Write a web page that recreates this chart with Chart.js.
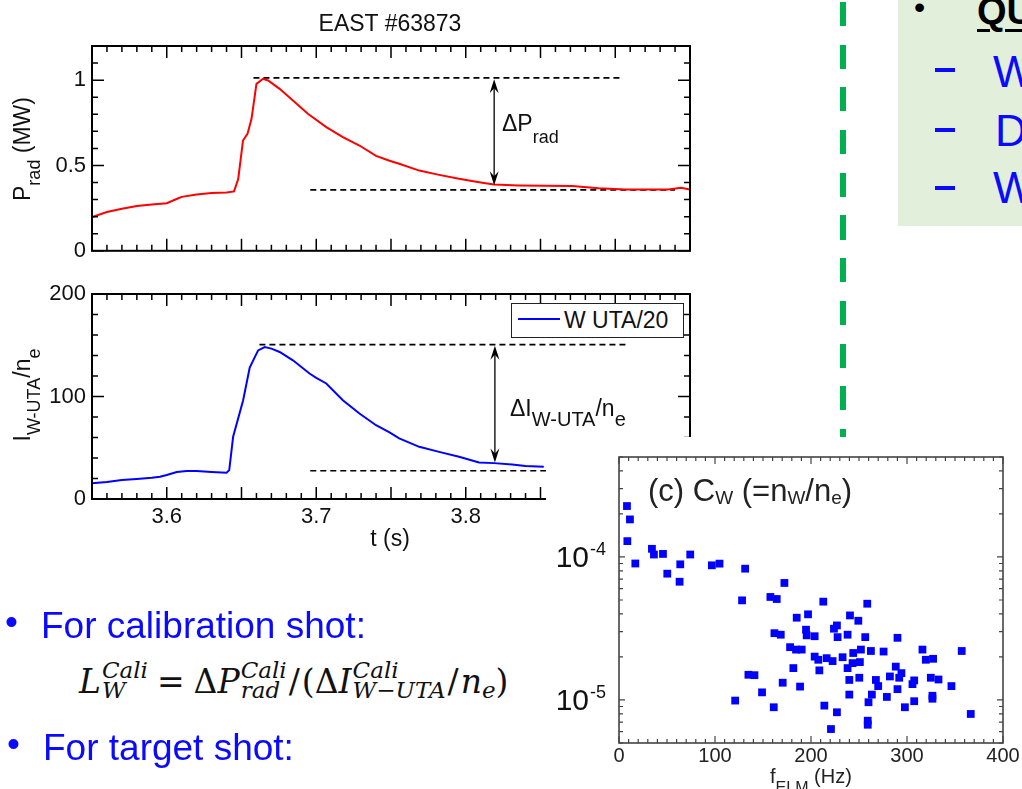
<!DOCTYPE html>
<html>
<head>
<meta charset="utf-8">
<script src="https://cdn.jsdelivr.net/npm/chart.js@4.4.1/dist/chart.umd.min.js"></script>
<style>
  body { margin: 0; background: #fff; }
  #page { position: relative; width: 1022px; height: 789px; overflow: hidden; background: #fff;
          font-family: 'Liberation Sans', Arial, sans-serif; }
  .abs { position: absolute; white-space: nowrap; line-height: 1; }
  canvas { position: absolute; }
  .fig { color: #111; font-size: 23px; }
  .sub { font-size: 18px; position: relative; top: 10px; }
  .rot { transform: translate(-50%, -50%) rotate(-90deg); }
  #legend { left: 511px; top: 303px; width: 173px; height: 35px; box-sizing: border-box;
            border: 1.5px solid #222; background: #fff; }
  #panel { position: absolute; left: 546px; top: 437px; width: 476px; height: 352px; background: #fff; z-index: 5; }
  #greenDash { position: absolute; left: 840px; top: 2px; width: 6px; height: 436px;
               background: repeating-linear-gradient(to bottom, #00b050 0 24px, transparent 24px 42.7px); }
  #note { position: absolute; left: 898px; top: 0; width: 124px; height: 226px; background: #e2efda; }
  .blue { color: #0a0aff; }
  .dash { position: absolute; width: 20px; height: 3.5px; background: #0a0aff; left: 935px; }
  #formula { position: absolute; left: 79px; top: 652px; font-family: 'DejaVu Serif', serif;
             font-size: 33px; line-height: 60px; white-space: nowrap; color: #111; }
  #formula i { font-style: italic; }
  #formula .ss { display: inline-flex; flex-direction: column; align-items: flex-start;
                 font-size: 23px; line-height: 20px; vertical-align: 15px; margin-left: 1px; }
  #formula .sb { font-size: 23px; vertical-align: -5px; }
  #formula .op { margin: 0 9px; }
  #formula .sl { margin: 0 2px; }
  .cwsub { font-size: 19px; position: relative; top: 3px; }
</style>
</head>
<body>
<div id="page">

  <div id="greenDash"></div>
  <div id="note"></div>
  <div class="abs" style="left:914px;top:-9px;font-size:32px;color:#000">•</div>
  <div class="abs" style="left:977px;top:-8px;font-size:38px;font-weight:bold;color:#000;text-decoration:underline;text-decoration-thickness:2.5px;text-underline-offset:5px">QU</div>
  <div class="dash" style="top:68px"></div>
  <div class="dash" style="top:128px"></div>
  <div class="dash" style="top:186px"></div>
  <div class="abs blue" style="left:993px;top:50px;font-size:44px">W</div>
  <div class="abs blue" style="left:995px;top:109px;font-size:44px">D</div>
  <div class="abs blue" style="left:993px;top:166px;font-size:44px">W</div>

  <canvas id="radChart" width="720" height="270" style="left:0;top:0"></canvas>
  <canvas id="utaChart" width="720" height="300" style="left:0;top:270px"></canvas>

  <div class="abs fig" style="left:390px;top:12px;transform:translateX(-50%)">EAST #63873</div>
  <div class="abs fig rot" style="left:22px;top:149px">P<span class="sub">rad</span> (MW)</div>
  <div class="abs fig rot" style="left:22px;top:395px">I<span class="sub">W-UTA</span>/n<span class="sub">e</span></div>
  <div class="abs fig" style="left:390px;top:527px;transform:translateX(-50%)">t (s)</div>

  <div class="abs fig" style="left:502px;top:112px">ΔP<span class="sub" style="top:12px">rad</span></div>
  <div class="abs fig" style="left:510px;top:397px">ΔI<span class="sub" style="font-size:20px">W-UTA</span>/n<span class="sub" style="font-size:20px">e</span></div>

  <div id="legend" class="abs"></div>
  <div class="abs" style="left:518px;top:318px;width:42px;height:2px;background:#0000ff"></div>
  <div class="abs fig" style="left:564px;top:309px">W UTA/20</div>

  <div class="abs blue" style="left:5px;top:603px;font-size:37px">•</div>
  <div class="abs blue" style="left:41px;top:607px;font-size:37px">For calibration shot:</div>
  <div id="formula"><i>L</i><span class="ss"><i>Cali</i><i>W</i></span><span class="op">=</span>Δ<i>P</i><span class="ss"><i>Cali</i><i>rad</i></span><span class="sl">/</span>(Δ<i>I</i><span class="ss"><i>Cali</i><i>W−UTA</i></span><span class="sl">/</span><i>n</i><i class="sb">e</i>)</div>
  <div class="abs blue" style="left:7px;top:725px;font-size:37px">•</div>
  <div class="abs blue" style="left:43px;top:729px;font-size:37px">For target shot:</div>

  <div id="panel">
    <canvas id="cwChart" width="476" height="352" style="left:0;top:0"></canvas>
    <div class="abs" style="left:102px;top:38px;font-size:31px;color:#222">(c) C<span class="cwsub">W</span> (=n<span class="cwsub">W</span>/n<span class="cwsub">e</span>)</div>
    <div class="abs" style="left:224px;top:329px;font-size:20px;color:#222">f<span style="font-size:16px;position:relative;top:10px">ELM</span> (Hz)</div>
  </div>
</div>

<script>
// Radiated power, EAST #63873
const tRad = [3.55, 3.56, 3.57, 3.58, 3.59, 3.60, 3.607, 3.61, 3.62, 3.63, 3.64, 3.645, 3.6478, 3.651, 3.654,
  3.6567, 3.66, 3.6644, 3.6678, 3.6755, 3.6844, 3.6944, 3.7067, 3.7178, 3.7289, 3.74, 3.749, 3.7555, 3.7689,
  3.7822, 3.7955, 3.8089, 3.8189, 3.8355, 3.8533, 3.8711, 3.8889, 3.9067, 3.92, 3.9355, 3.944, 3.95];
const pRad = [0.197, 0.227, 0.246, 0.262, 0.271, 0.279, 0.305, 0.316, 0.330, 0.338, 0.342, 0.348, 0.42, 0.646, 0.685,
  0.773, 0.978, 1.008, 0.998, 0.949, 0.881, 0.803, 0.725, 0.666, 0.617, 0.556, 0.528, 0.51, 0.47,
  0.445, 0.422, 0.402, 0.388, 0.383, 0.381, 0.379, 0.367, 0.359, 0.359, 0.359, 0.369, 0.359];
const pPeakSpan = [3.658, 3.905];
const pPeak = 1.013;
const pBaseSpan = [3.696, 3.94];
const pBase = 0.357;
const pArrow = [3.819, 1.005, 0.384];   // t, upper, lower
const pTicks = [0, 0.5, 1];

// W UTA line intensity over n_e
const tUta = [3.55, 3.56, 3.57, 3.58, 3.59, 3.5955, 3.60, 3.6067, 3.6133, 3.62, 3.63, 3.64, 3.6418, 3.6444, 3.6511,
  3.6555, 3.6611, 3.6655, 3.67, 3.6755, 3.6844, 3.6955, 3.70, 3.7067, 3.7178, 3.7289, 3.74, 3.749, 3.7555,
  3.7689, 3.7822, 3.7955, 3.8089, 3.8189, 3.831, 3.84, 3.8522];
const iUta = [15.3, 16.6, 18.5, 19.5, 20.7, 21.7, 23.4, 26.3, 27.3, 27.3, 26.3, 25.6, 28.2, 60.7, 96.4,
  128.2, 145, 148.3, 146.7, 143.4, 135.3, 122.4, 118.1, 112.7, 96.4, 83.4, 72, 65, 59.1,
  50.9, 46, 41.2, 35.7, 35, 33.7, 32.1, 31.5];
const iPeakSpan = [3.662, 3.909];
const iPeak = 150.6;
const iBaseSpan = [3.696, 3.94];
const iBase = 27.6;
const iArrow = [3.8195, 149.5, 35.5];
const iTicks = [0, 100, 200];
const tTicks = [3.6, 3.7, 3.8, 3.9];

// C_W versus ELM frequency
const fElm = [8.3, 11.4, 8.7, 17, 34.3, 36.4, 45.8, 50.3, 63.8, 63.1, 74.2, 96.7, 104.7, 131.4, 128.2, 172.3,
  157.7, 164.3, 212.8, 258.6, 185.1, 196.9, 240.6, 249.3, 161.9, 168.5, 194.8, 195.5, 203.8, 223.9, 227,
  227.7, 238.1, 256.5, 290.1, 178.2, 184.4, 190.3, 203.8, 207.6, 216.3, 222.5, 232.9, 244, 252, 262.4,
  275.6, 316.1, 319.6, 327.2, 357, 181.6, 208.7, 238.1, 243.3, 250.9, 288.3, 294.2, 239.9, 250.3, 267.6,
  282.2, 291.9, 305.7, 307.5, 324.8, 332.8, 346.3, 134.8, 141.1, 170.5, 188.6, 149, 270, 290.1, 239.9,
  263.4, 279, 326.5, 326.5, 307.5, 259.9, 121, 161.2, 213.9, 227, 297.8, 366.4, 259.1, 259.1, 220.8];
const cW = [2.27e-4, 1.83e-4, 1.29e-4, 9.0e-5, 1.14e-4, 1.04e-4, 1.05e-4, 7.64e-5, 8.88e-5, 6.71e-5, 1.04e-4,
  8.74e-5, 8.98e-5, 8.28e-5, 4.97e-5, 6.58e-5, 5.25e-5, 5.08e-5, 4.87e-5, 4.71e-5, 3.76e-5, 3.97e-5, 3.9e-5,
  3.58e-5, 2.93e-5, 2.86e-5, 3.1e-5, 2.83e-5, 2.79e-5, 3.15e-5, 3.32e-5, 2.75e-5, 2.86e-5, 2.75e-5, 2.72e-5,
  2.34e-5, 2.25e-5, 2.25e-5, 2.01e-5, 1.91e-5, 1.96e-5, 1.87e-5, 1.99e-5, 2.13e-5, 2.25e-5, 2.2e-5, 2.18e-5,
  2.25e-5, 1.91e-5, 1.94e-5, 2.2e-5, 1.67e-5, 1.61e-5, 1.67e-5, 1.81e-5, 1.84e-5, 1.71e-5, 1.54e-5, 1.38e-5,
  1.43e-5, 1.38e-5, 1.46e-5, 1.43e-5, 1.29e-5, 1.37e-5, 1.43e-5, 1.39e-5, 1.25e-5, 1.5e-5, 1.49e-5, 1.32e-5,
  1.24e-5, 1.13e-5, 1.25e-5, 1.19e-5, 1.09e-5, 1.09e-5, 1.05e-5, 1.07e-5, 1.02e-5, 9.8e-6, 9.64e-6, 9.9e-6,
  8.89e-6, 9.13e-6, 8.2e-6, 8.89e-6, 7.98e-6, 7.16e-6, 6.71e-6, 6.26e-6];
const fTicks = [0, 100, 200, 300, 400];
const cwDecades = [-5, -4];

Chart.defaults.font.family = "'Liberation Sans', Arial, sans-serif";
Chart.defaults.color = '#111';
Chart.defaults.animation = false;

const steps = (min, max, step) => {
  const out = [];
  for (let k = Math.ceil(min / step - 1e-9); k * step <= max + 1e-9; k++) out.push(+(k * step).toFixed(6));
  return out;
};
const onGrid = (v, m) => Math.abs(v / m - Math.round(v / m)) < 1e-6;

// box around the plot with inward ticks on all four sides
const frameTicks = {
  id: 'frameTicks',
  afterDatasetsDraw(chart, args, o) {
    const { ctx, chartArea: a, scales: { x, y } } = chart;
    ctx.save();
    ctx.strokeStyle = o.color;
    ctx.lineWidth = o.tickWidth;
    ctx.beginPath();
    steps(x.min, x.max, o.xMinor).forEach(v => {
      const p = x.getPixelForValue(v);
      const len = onGrid(v, o.xMajor) ? o.major : o.minor;
      ctx.moveTo(p, a.bottom); ctx.lineTo(p, a.bottom - len);
      ctx.moveTo(p, a.top); ctx.lineTo(p, a.top + len);
    });
    let yv;
    if (o.logY) {
      yv = [];
      for (let e = Math.floor(Math.log10(y.min)); e <= Math.ceil(Math.log10(y.max)); e++) {
        for (let k = 1; k <= 9; k++) {
          const v = k * Math.pow(10, e);
          if (v >= y.min * 0.999 && v <= y.max * 1.001) yv.push({ v, major: k === 1 });
        }
      }
    } else {
      yv = steps(y.min, y.max, o.yMinor).map(v => ({ v, major: onGrid(v, o.yMajor) }));
    }
    yv.forEach(({ v, major }) => {
      const p = y.getPixelForValue(v);
      const len = major ? o.yMajorLen || o.major : o.yMinorLen || o.minor;
      ctx.moveTo(a.left, p); ctx.lineTo(a.left + len, p);
      ctx.moveTo(a.right, p); ctx.lineTo(a.right - len, p);
    });
    ctx.stroke();
    ctx.lineWidth = o.frameWidth;
    ctx.strokeRect(a.left, a.top, a.right - a.left, a.bottom - a.top);
    ctx.restore();
  }
};

// double-headed arrow marking the rise above the baseline
const deltaArrow = {
  id: 'deltaArrow',
  afterDatasetsDraw(chart, args, o) {
    if (!o.at) return;
    const { ctx, scales: { x, y } } = chart;
    const px = x.getPixelForValue(o.at[0]);
    const top = y.getPixelForValue(o.at[1]);
    const bot = y.getPixelForValue(o.at[2]);
    ctx.save();
    ctx.strokeStyle = ctx.fillStyle = '#000';
    ctx.lineWidth = 1.3;
    ctx.beginPath(); ctx.moveTo(px, top + 6); ctx.lineTo(px, bot - 6); ctx.stroke();
    [[top, 1], [bot, -1]].forEach(([tip, d]) => {
      ctx.beginPath();
      ctx.moveTo(px, tip);
      ctx.lineTo(px - 4.5, tip + d * 14);
      ctx.lineTo(px, tip + d * 9);
      ctx.lineTo(px + 4.5, tip + d * 14);
      ctx.closePath();
      ctx.fill();
    });
    ctx.restore();
  }
};

// 10^n labels on the log axis
const decadeLabels = {
  id: 'decadeLabels',
  afterDraw(chart) {
    const { ctx, chartArea: a, scales: { y } } = chart;
    ctx.save();
    ctx.fillStyle = '#111';
    ctx.textBaseline = 'alphabetic';
    cwDecades.forEach(e => {
      const p = y.getPixelForValue(Math.pow(10, e));
      ctx.font = "18px 'Liberation Sans', Arial, sans-serif";
      const sup = String(e);
      const supW = ctx.measureText(sup).width;
      ctx.font = "30px 'Liberation Sans', Arial, sans-serif";
      const mainW = ctx.measureText('10').width;
      const x0 = a.left - 14 - supW - mainW;
      ctx.fillText('10', x0, p + 10);
      ctx.font = "18px 'Liberation Sans', Arial, sans-serif";
      ctx.fillText(sup, x0 + mainW + 1, p - 2);
    });
    ctx.restore();
  }
};

const dashed = (span, level) => ({
  data: span.map(t => ({ x: t, y: level })),
  borderColor: '#000', borderWidth: 1.6, borderDash: [6, 4], pointRadius: 0
});

const timeAxis = (showLabels, height, pad) => ({
  type: 'linear', min: 3.55, max: 3.95,
  afterBuildTicks: s => { s.ticks = tTicks.map(v => ({ value: v })); },
  afterFit: s => { s.height = height; },
  ticks: { display: showLabels, font: { size: 22 }, padding: pad, maxRotation: 0, callback: v => v.toFixed(1) },
  grid: { display: false, drawTicks: false },
  border: { display: false }
});

const valueAxis = (max, tickList) => ({
  type: 'linear', min: 0, max: max,
  afterBuildTicks: s => { s.ticks = tickList.map(v => ({ value: v })); },
  afterFit: s => { s.width = 92; },
  ticks: { font: { size: 22 }, padding: 6, callback: v => String(v) },
  grid: { display: false, drawTicks: false },
  border: { display: false }
});

new Chart(document.getElementById('radChart'), {
  type: 'line',
  data: {
    datasets: [
      { data: tRad.map((t, i) => ({ x: t, y: pRad[i] })), borderColor: '#ff0000', borderWidth: 2, pointRadius: 0, tension: 0 },
      dashed(pPeakSpan, pPeak),
      dashed(pBaseSpan, pBase)
    ]
  },
  options: {
    responsive: false,
    layout: { padding: { top: 46, right: 30, left: 0, bottom: 0 } },
    plugins: {
      legend: { display: false }, tooltip: { enabled: false },
      frameTicks: { xMinor: 0.01, xMajor: 0.05, yMinor: 0.1, yMajor: 0.5, major: 12, minor: 6, color: '#000', tickWidth: 1.5, frameWidth: 2 },
      deltaArrow: { at: pArrow }
    },
    scales: { x: timeAxis(false, 18, 0), y: valueAxis(1.2, pTicks) }
  },
  plugins: [frameTicks, deltaArrow]
});

new Chart(document.getElementById('utaChart'), {
  type: 'line',
  data: {
    datasets: [
      { data: tUta.map((t, i) => ({ x: t, y: iUta[i] })), borderColor: '#0000ff', borderWidth: 2, pointRadius: 0, tension: 0 },
      dashed(iPeakSpan, iPeak),
      dashed(iBaseSpan, iBase)
    ]
  },
  options: {
    responsive: false,
    layout: { padding: { top: 24, right: 30, left: 0, bottom: 0 } },
    plugins: {
      legend: { display: false }, tooltip: { enabled: false },
      frameTicks: { xMinor: 0.01, xMajor: 0.05, yMinor: 20, yMajor: 100, major: 12, minor: 6, color: '#000', tickWidth: 1.5, frameWidth: 2 },
      deltaArrow: { at: iArrow }
    },
    scales: { x: timeAxis(true, 71, 5), y: valueAxis(200, iTicks) }
  },
  plugins: [frameTicks, deltaArrow]
});

new Chart(document.getElementById('cwChart'), {
  type: 'scatter',
  data: {
    datasets: [{
      data: fElm.map((f, i) => ({ x: f, y: cW[i] })),
      pointStyle: 'rect', pointRadius: 5.5, backgroundColor: '#0000ff', borderWidth: 0
    }]
  },
  options: {
    responsive: false,
    layout: { padding: { top: 20, right: 19, left: 0, bottom: 0 } },
    plugins: {
      legend: { display: false }, tooltip: { enabled: false },
      frameTicks: { xMinor: 10, xMajor: 100, major: 7, minor: 4, yMajorLen: 6, yMinorLen: 4, logY: true, color: '#444', tickWidth: 1.2, frameWidth: 1.6 }
    },
    scales: {
      x: {
        type: 'linear', min: 0, max: 400,
        afterBuildTicks: s => { s.ticks = fTicks.map(v => ({ value: v })); },
        afterFit: s => { s.height = 46; },
        ticks: { font: { size: 20 }, color: '#222', padding: 1, maxRotation: 0 },
        grid: { display: false, drawTicks: false },
        border: { display: false }
      },
      y: {
        type: 'logarithmic', min: 5e-6, max: 5e-4,
        afterFit: s => { s.width = 73; },
        ticks: { display: false },
        grid: { display: false, drawTicks: false },
        border: { display: false }
      }
    }
  },
  plugins: [frameTicks, decadeLabels]
});
</script>
</body>
</html>
